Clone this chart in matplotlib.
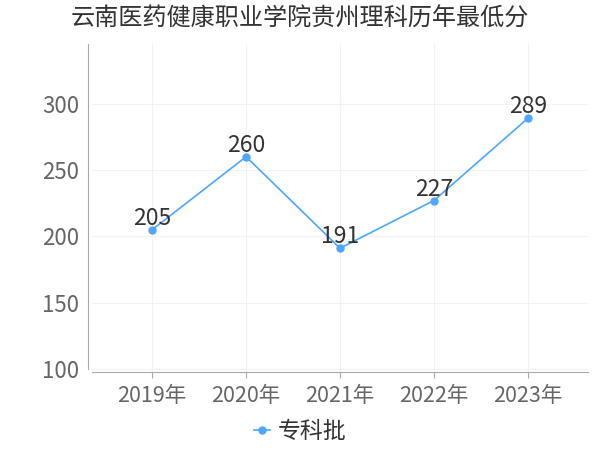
import matplotlib
matplotlib.use("Agg")
import matplotlib.pyplot as plt

plt.rcParams['font.family'] = ['Noto Sans CJK SC', 'DejaVu Sans']

years = ["2019年", "2020年", "2021年", "2022年", "2023年"]
scores = [205, 260, 191, 227, 289]
series_name = "专科批"
title = "云南医药健康职业学院贵州理科历年最低分"
yticks = [100, 150, 200, 250, 300]

color = "#4da6ff"

fig = plt.figure(figsize=(6, 4.5), dpi=100)
ax = fig.add_axes([92/600, 1-372/450, (588-92)/600, (372-44)/450])

x = list(range(len(years)))
ax.plot(x, scores, color=color, lw=1.2, marker='o', ms=5, label=series_name, zorder=3)
for xi, v in zip(x, scores):
    ax.annotate(str(v), (xi, v), xytext=(0, 3.5), textcoords='offset points',
                ha='center', va='baseline', fontsize=16.5, color='#333333', zorder=4)

ax.set_xlim(-0.64, 4.64)
ax.set_ylim(97.7, 345)
ax.set_xticks(x)
ax.set_xticklabels(years)
ax.set_yticks(yticks)
ax.grid(True, color='#f2f2f2', lw=0.8)
ax.set_axisbelow(True)

for s in ['top', 'right']:
    ax.spines[s].set_visible(False)
ax.spines['left'].set_color('#aaaaaa')
ax.spines['bottom'].set_color('#aaaaaa')
ax.spines['left'].set_position(('outward', 3))
ax.spines['left'].set_bounds(100, 345)

ax.tick_params(axis='x', colors='#aaaaaa', labelcolor='#666666', labelsize=15.5, length=4, pad=5)
ax.tick_params(axis='y', length=0, labelcolor='#666666', labelsize=16, pad=6)

fig.text(0.5, 1 - 19/450, title, ha='center', va='center', fontsize=17.4, color='#333333')

leg = fig.legend(loc='center', bbox_to_anchor=(0.5, 1-432/450), frameon=False,
                 fontsize=16.5, handlelength=0.7, handletextpad=0.35,
                 labelcolor='#333333')

fig.savefig("out.png", dpi=100, facecolor='white')
